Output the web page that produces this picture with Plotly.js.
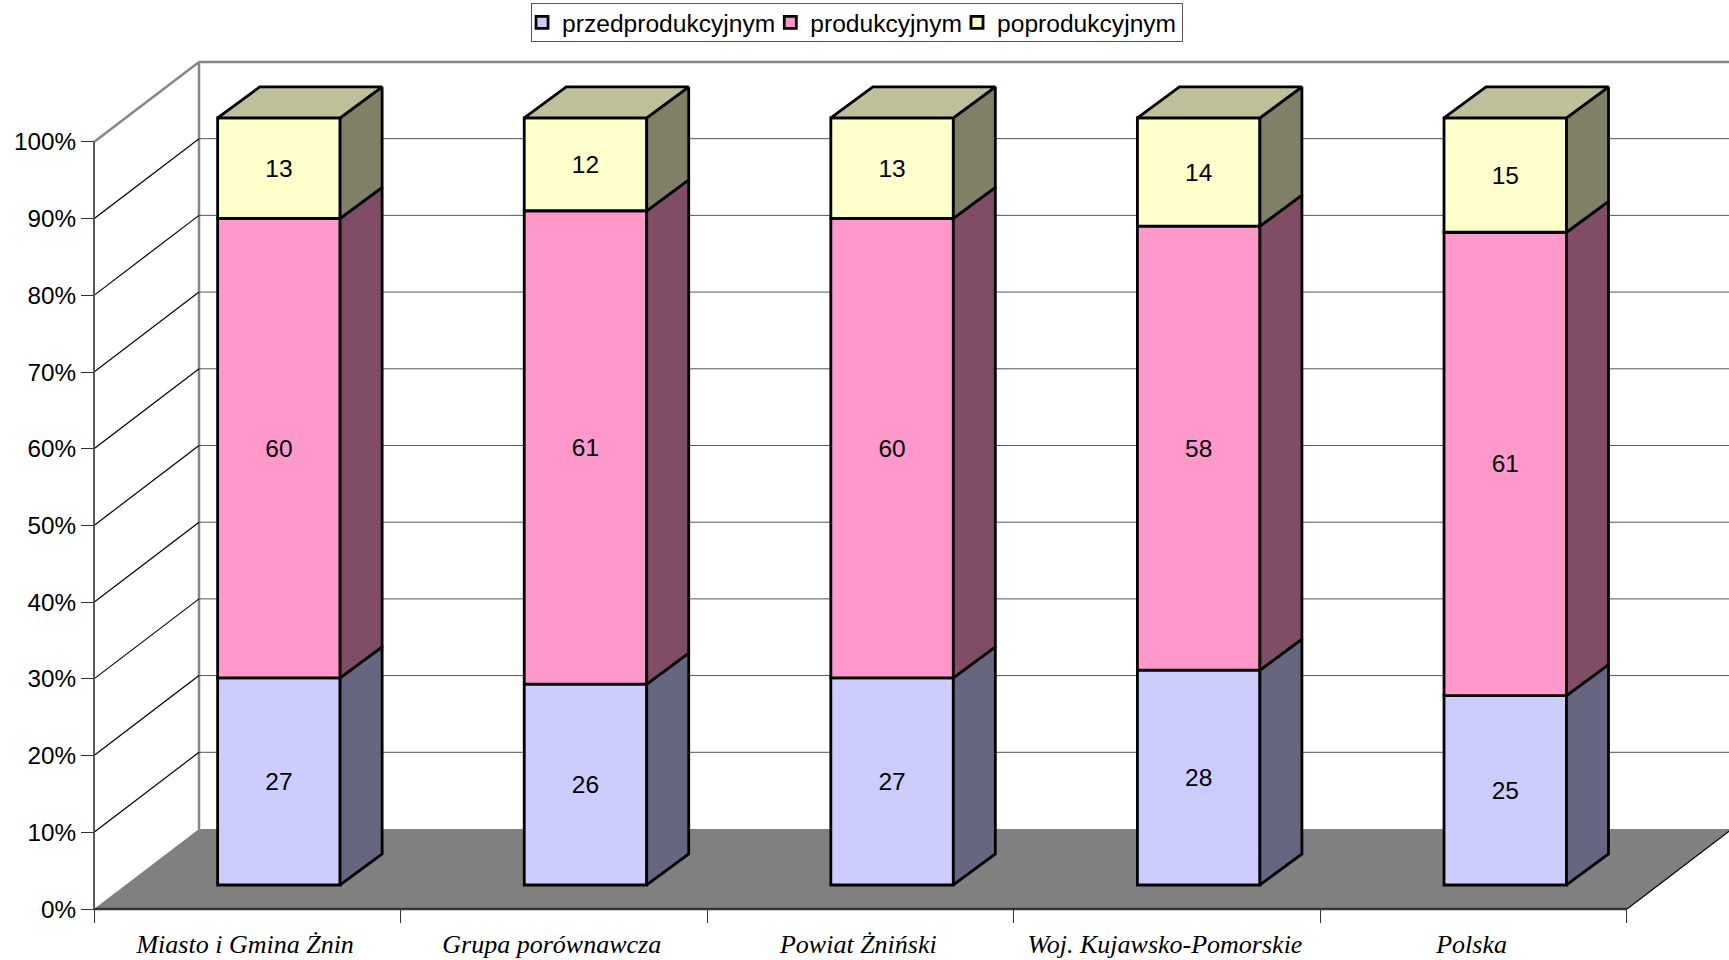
<!DOCTYPE html>
<html>
<head>
<meta charset="utf-8">
<script src="https://cdn.plot.ly/plotly-3.0.1.min.js"></script>
<style>html,body{margin:0;padding:0;background:#fff}#chart{width:1729px;height:960px}</style>
</head>
<body>
<div id="chart"></div>
<script>
var categories = ["Miasto i Gmina Żnin", "Grupa porównawcza", "Powiat Żniński", "Woj. Kujawsko-Pomorskie", "Polska"];
var seriesNames = ["przedprodukcyjnym", "produkcyjnym", "poprodukcyjnym"];
var przed = [27.0, 26.2, 27.0, 28.0, 24.7];
var prod = [59.9, 61.7, 59.9, 57.9, 60.4];
var po = [13.1, 12.1, 13.1, 14.1, 14.9];
var przedLabels = ["27", "26", "27", "28", "25"];
var prodLabels = ["60", "61", "60", "58", "61"];
var poLabels = ["13", "12", "13", "14", "15"];
var yTicks = [0, 10, 20, 30, 40, 50, 60, 70, 80, 90, 100];
var frontColors = ["#CCCCFF", "#FF99CC", "#FFFFCC"];
var sideColors = ["#666680", "#804C66", "#808066"];
var topColor = "#BFBF99";
var floorColor = "#808080";

// 3-D projection constants, in axis units
var wallDX = 0.3425, wallDY = 10.43;      // depth of the floor / side wall
var barOffX = 0.103, barOffY = 3.13;      // front face of a bar relative to the front plane
var barDX = 0.137, barDY = 4.04;          // depth of a bar
var barW = 0.3995;
var labelShift = -0.007;
var barLine = 2.8;
var xRange = [-0.01305, 5.3327], yRange = [-0.391, 111.99];
var fontSans = '"Liberation Sans", Arial, sans-serif';

var values = [przed, prod, po];
var labels = [przedLabels, prodLabels, poLabels];
var centers = categories.map(function (c, i) { return i + 0.5 + barOffX; });
var mids = categories.map(function (c, i) { return i + 0.5 + labelShift; });
var bounds = categories.map(function (c, i) { return i; }).concat([categories.length]);

var traces = [];
var bases = categories.map(function () { return barOffY; });
values.forEach(function (vals, s) {
  traces.push({
    type: "bar", name: seriesNames[s], x: centers, y: vals, base: bases.slice(), width: barW,
    text: labels[s], textposition: "inside", insidetextanchor: "middle", textangle: 0,
    constraintext: "none", insidetextfont: {family: fontSans, size: 24.5, color: "#000"},
    marker: {color: frontColors[s], line: {color: "#000", width: barLine}}, hoverinfo: "skip"
  });
  var sx = [], sy = [];
  vals.forEach(function (v, i) {
    var r = centers[i] + barW / 2, b = bases[i], t = b + v;
    sx.push(r, r + barDX, r + barDX, r, r, null);
    sy.push(b, b + barDY, t + barDY, t, b, null);
  });
  traces.push({type: "scatter", mode: "lines", x: sx, y: sy, fill: "toself", fillcolor: sideColors[s],
    line: {color: "#000", width: barLine}, showlegend: false, hoverinfo: "skip"});
  bases = bases.map(function (b, i) { return b + vals[i]; });
});
var tx = [], ty = [];
centers.forEach(function (c, i) {
  var l = c - barW / 2, r = c + barW / 2, t = bases[i];
  tx.push(l, r, r + barDX, l + barDX, l, null);
  ty.push(t, t, t + barDY, t + barDY, t, null);
});
traces.push({type: "scatter", mode: "lines", x: tx, y: ty, fill: "toself", fillcolor: topColor,
  line: {color: "#000", width: barLine}, showlegend: false, hoverinfo: "skip"});
traces.push({type: "scatter", mode: "lines", xaxis: "x2", x: [bounds[0], bounds[bounds.length - 1]], y: [0, 0],
  line: {color: "#333", width: 2.5}, showlegend: false, hoverinfo: "skip"});
traces.push({type: "scatter", mode: "lines", xaxis: "x2", x: [0, 0], y: [0, 100],
  line: {color: "#595959", width: 2}, showlegend: false, hoverinfo: "skip"});

var n = categories.length;
var shapes = [{
  type: "path", layer: "below", xref: "x", yref: "y", fillcolor: floorColor, line: {width: 0},
  path: "M0,0L" + wallDX + "," + wallDY + "L" + (n + wallDX) + "," + wallDY + "L" + n + ",0Z"
}, {
  type: "line", layer: "below", xref: "x", yref: "y", x0: n, y0: 0, x1: n + wallDX, y1: wallDY,
  line: {color: "#000", width: 1.2}
}, {
  type: "line", layer: "below", xref: "x", yref: "y", x0: wallDX, y0: wallDY, x1: wallDX, y1: 100 + wallDY,
  line: {color: "#868686", width: 2.5}
}];
yTicks.forEach(function (t) {
  if (t === 0) return;
  var top = t === 100;
  shapes.push({type: "line", layer: "below", xref: "x", yref: "y", x0: 0, y0: t, x1: wallDX, y1: t + wallDY,
    line: {color: top ? "#868686" : "#000", width: top ? 2.5 : 1.2}});
  shapes.push({type: "line", layer: "below", xref: "x", yref: "y", x0: wallDX, y0: t + wallDY, x1: xRange[1], y1: t + wallDY,
    line: {color: top ? "#868686" : "#555", width: top ? 2.5 : 1}});
});

var layout = {
  width: 1729, height: 960, paper_bgcolor: "#fff", plot_bgcolor: "rgba(0,0,0,0)",
  margin: {l: 90, r: 0, t: 50, b: 48, autoexpand: false},
  barmode: "overlay", showlegend: true, hovermode: false,
  xaxis: {
    type: "linear", range: xRange, anchor: "free", position: 0.00348, showgrid: false, zeroline: false, showline: false,
    tickmode: "array", tickvals: mids, ticktext: categories, ticks: "outside", ticklen: 12, tickcolor: "rgba(0,0,0,0)", tickangle: 0,
    tickfont: {family: '"Liberation Serif", "Times New Roman", serif', size: 26, color: "#000", style: "italic"}
  },
  xaxis2: {
    type: "linear", range: xRange, overlaying: "x", anchor: "free", position: 0.00348, side: "bottom",
    showgrid: false, zeroline: false, showline: false,
    tickmode: "array", tickvals: bounds, ticktext: bounds.map(function () { return ""; }),
    ticks: "outside", ticklen: 13, tickwidth: 1, tickcolor: "#333"
  },
  yaxis: {
    type: "linear", range: yRange, anchor: "free", position: 0.00244, showgrid: false, zeroline: false, showline: false,
    tickmode: "array", tickvals: yTicks, ticktext: yTicks.map(function (t) { return t + "%"; }),
    ticks: "outside", ticklen: 13, tickwidth: 1, tickcolor: "#333",
    tickfont: {family: fontSans, size: 24.3, color: "#000"}
  },
  legend: {
    orientation: "h", x: 0.468, xanchor: "center", y: 1.032, yanchor: "middle",
    bordercolor: "#555", borderwidth: 1, bgcolor: "#fff", indentation: -10,
    font: {family: fontSans, size: 24.6, color: "#000"}, itemclick: false, itemdoubleclick: false,
    traceorder: "normal"
  },
  shapes: shapes
};
Plotly.newPlot("chart", traces, layout, {displayModeBar: false, staticPlot: true}).then(function () {
  // the reference's legend frame is a little shorter than Plotly's automatic one
  var bg = document.querySelector("#chart .legend .bg");
  if (bg) {
    var h = parseFloat(bg.getAttribute("height")), target = 38;
    if (h > target) {
      bg.setAttribute("y", (parseFloat(bg.getAttribute("y") || 0) + (h - target) / 2));
      bg.setAttribute("height", target);
    }
  }
});
</script>
</body>
</html>
